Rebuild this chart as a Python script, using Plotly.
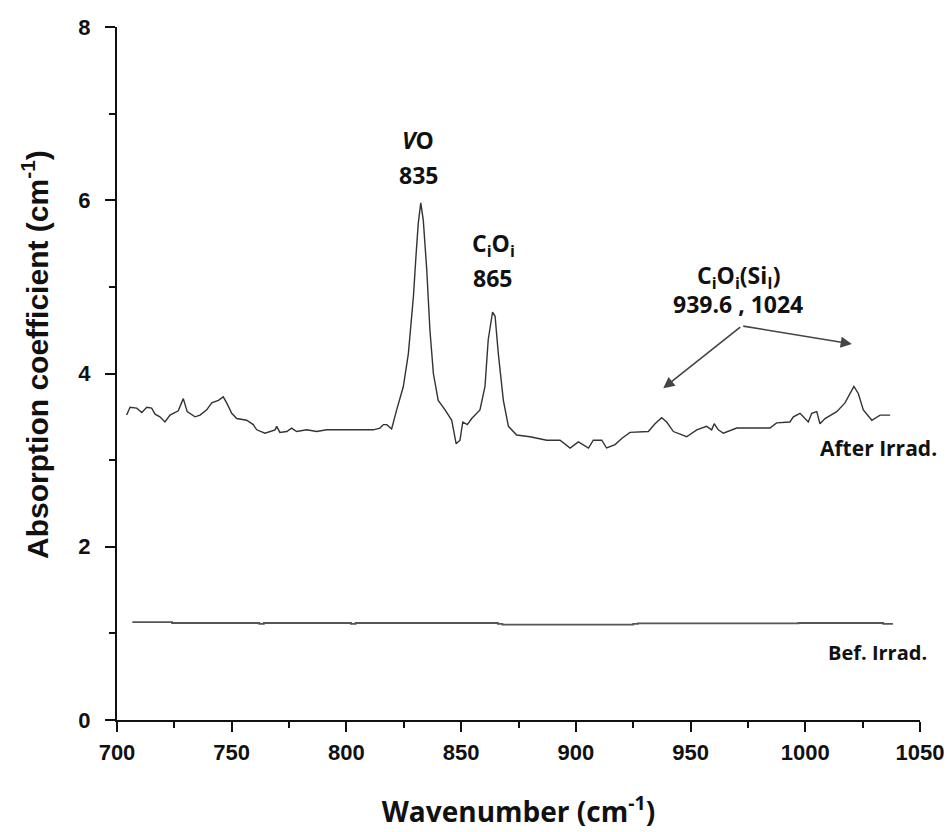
import plotly.graph_objects as go

# After irradiation spectrum
after_wn = [704.2, 705.7, 708.6, 710.8, 713.0, 715.1, 716.6, 718.7, 720.9, 723.1, 726.7, 728.9,
            730.6, 734.0, 736.2, 739.1, 741.3, 744.2, 746.3, 747.8, 750.0, 752.2, 756.5, 759.4,
            760.9, 764.5, 768.9, 769.6, 771.0, 774.0, 776.1, 778.3, 782.7, 787.0, 791.4, 797.2,
            805.9, 811.7, 814.6, 816.1, 817.6, 819.7, 821.9, 824.8, 827.0, 829.2, 830.3, 831.3,
            832.4, 833.5, 835.0, 836.4, 837.9, 840.0, 843.0, 845.9, 847.8, 849.5, 850.7, 852.7,
            854.6, 858.2, 860.4, 861.8, 863.7, 864.8, 866.2, 868.4, 870.6, 874.2, 880.0, 887.3,
            893.1, 897.5, 901.1, 905.5, 907.6, 911.3, 913.4, 917.1, 920.0, 923.6, 931.6, 934.5,
            937.4, 939.6, 942.5, 948.3, 952.7, 957.0, 959.2, 960.3, 962.1, 964.3, 970.1, 977.3,
            984.6, 987.5, 993.3, 994.8, 997.7, 1001.3, 1002.8, 1005.0, 1006.4, 1008.6, 1013.7,
            1017.3, 1021.2, 1023.1, 1025.3, 1029.0, 1032.6, 1037.0]
after_abs = [3.52, 3.61, 3.60, 3.55, 3.61, 3.60, 3.53, 3.50, 3.44, 3.52, 3.57, 3.71,
             3.56, 3.50, 3.52, 3.58, 3.66, 3.69, 3.73, 3.66, 3.54, 3.48, 3.46, 3.41,
             3.35, 3.31, 3.35, 3.39, 3.32, 3.33, 3.37, 3.33, 3.35, 3.33, 3.35, 3.35,
             3.35, 3.35, 3.37, 3.41, 3.41, 3.36, 3.58, 3.85, 4.23, 4.89, 5.35, 5.73,
             5.97, 5.77, 5.20, 4.50, 4.00, 3.69, 3.58, 3.46, 3.19, 3.23, 3.44, 3.41,
             3.48, 3.58, 3.85, 4.39, 4.71, 4.66, 4.23, 3.69, 3.39, 3.29, 3.27, 3.23,
             3.23, 3.14, 3.21, 3.14, 3.23, 3.23, 3.14, 3.18, 3.25, 3.32, 3.33, 3.42,
             3.49, 3.44, 3.33, 3.27, 3.35, 3.39, 3.35, 3.42, 3.35, 3.31, 3.37, 3.37,
             3.37, 3.43, 3.44, 3.50, 3.54, 3.44, 3.54, 3.56, 3.42, 3.48, 3.56,
             3.66, 3.85, 3.77, 3.58, 3.46, 3.52, 3.52]

# Before irradiation spectrum
bef_wn = [706.7, 723.0, 724.0, 760.5, 762.0, 764.0, 766.0, 800.0, 802.0, 804.0, 866.0, 868.0,
          923.5, 925.0, 927.0, 969.0, 994.9, 997.0, 1000.0, 1032.4, 1034.0, 1038.2]
bef_abs = [1.13, 1.13, 1.12, 1.12, 1.11, 1.12, 1.12, 1.12, 1.11, 1.12, 1.11, 1.10,
           1.10, 1.11, 1.115, 1.115, 1.115, 1.12, 1.12, 1.12, 1.11, 1.11]

x_ticks = [700, 750, 800, 850, 900, 950, 1000, 1050]
y_ticks = [0, 2, 4, 6, 8]

fig = go.Figure()
fig.add_trace(go.Scatter(x=after_wn, y=after_abs, mode="lines",
                         line=dict(color="#333333", width=1.4), showlegend=False))
fig.add_trace(go.Scatter(x=bef_wn, y=bef_abs, mode="lines",
                         line=dict(color="#555555", width=1.8, shape="hv"), showlegend=False))

lab_font = dict(family="Open Sans", size=23, color="#111111")
anns = [
    dict(x=831.2, y=6.70, text="<b><i>V</i>O</b>"),
    dict(x=831.2, y=6.29, text="<b>835</b>"),
    dict(x=864.0, y=5.49, text="<b>C<sub>i</sub>O<sub>i</sub></b>"),
    dict(x=863.6, y=5.10, text="<b>865</b>"),
    dict(x=970.7, y=5.12, text="<b>C<sub>i</sub>O<sub>i</sub>(Si<sub>I</sub>)</b>"),
    dict(x=970.7, y=4.80, text="<b>939.6 , 1024</b>"),
]
for a in anns:
    fig.add_annotation(x=a["x"], y=a["y"], text=a["text"], showarrow=False,
                       xref="x", yref="y", font=lab_font)

fig.add_annotation(x=1032.0, y=3.14, text="<b>After Irrad.</b>", showarrow=False,
                   font=dict(family="Open Sans", size=21, color="#111111"))
fig.add_annotation(x=1031.5, y=0.785, text="<b>Bef. Irrad.</b>", showarrow=False,
                   font=dict(family="Open Sans", size=20, color="#111111"))

# arrows
for (xe, ye) in [(938.1, 3.83), (1020.3, 4.34)]:
    fig.add_annotation(x=xe, y=ye, ax=972.3, ay=4.55, xref="x", yref="y",
                       axref="x", ayref="y", text="", showarrow=True,
                       arrowhead=2, arrowsize=1.4, arrowwidth=1.6, arrowcolor="#444444")

# y-axis title (placed as rotated text)
fig.add_annotation(x=-0.102, y=0.527, xref="paper", yref="paper", textangle=-90,
                   xanchor="center", yanchor="middle",
                   text="<b>Absorption coefficient (cm<sup>-1</sup>)</b>", showarrow=False,
                   font=dict(family="Liberation Sans", size=30, color="#111111"))

tick_font = dict(family="Liberation Sans", size=22, color="#111111")
fig.update_xaxes(range=[700, 1050], tickvals=x_ticks, ticktext=[f"<b>{v}</b>" for v in x_ticks],
                 ticks="outside", ticklen=10, tickwidth=2, tickcolor="#111111",
                 showline=True, linewidth=2, linecolor="#111111", showgrid=False, zeroline=False,
                 tickfont=tick_font, ticklabelstandoff=2, automargin=False,
                 minor=dict(dtick=25, tick0=725, ticks="outside", ticklen=6, tickwidth=2,
                            tickcolor="#111111", showgrid=False),
                 title=dict(text="<b>Wavenumber (cm<sup>-1</sup>)</b>", standoff=38,
                            font=dict(family="Open Sans", size=28, color="#111111")))
fig.update_yaxes(range=[0, 8], tickvals=y_ticks, ticktext=[f"<b>{v}</b>" for v in y_ticks],
                 ticks="outside", ticklen=10, tickwidth=2, tickcolor="#111111",
                 showline=True, linewidth=2, linecolor="#111111", showgrid=False, zeroline=False,
                 tickfont=tick_font, ticklabelstandoff=10, automargin=False,
                 minor=dict(dtick=1, tick0=1, ticks="outside", ticklen=6, tickwidth=2,
                            tickcolor="#111111", showgrid=False))

fig.update_layout(width=952, height=832, margin=dict(l=117, r=32, t=27, b=112),
                  plot_bgcolor="white", paper_bgcolor="white")
fig.write_html("out.html")
